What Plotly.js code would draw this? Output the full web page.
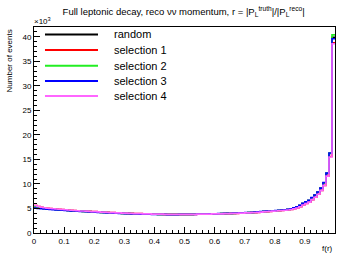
<!DOCTYPE html>
<html>
<head>
<meta charset="utf-8">
<script src="https://cdn.plot.ly/plotly-3.0.1.min.js"></script>
<style>html,body{margin:0;padding:0;background:#fff;}#plot{width:337px;height:253px;}</style>
</head>
<body>
<div id="plot"></div>
<script>
// Bin edges: 100 bins of width 0.01 from 0 to 1
var binCount = 100;
var binWidth = 0.01;

var seriesNames = ["random", "selection 1", "selection 2", "selection 3", "selection 4"];
var seriesColors = ["#000000", "#ff0000", "#22ee22", "#0000ff", "#ff66ff"];

// Counts per bin, in units of 10^3 events
var randomCounts = [
5.35,5.2,5.1,5.0,4.95,4.9,4.85,4.8,4.75,4.7,
4.65,4.6,4.55,4.5,4.5,4.45,4.4,4.4,4.35,4.3,
4.3,4.25,4.2,4.2,4.15,4.1,4.1,4.05,4.05,4.0,
4.0,3.95,3.95,3.9,3.9,3.9,3.9,3.85,3.85,3.85,
3.85,3.8,3.8,3.8,3.8,3.8,3.8,3.8,3.8,3.8,
3.8,3.8,3.8,3.85,3.85,3.85,3.85,3.85,3.9,3.9,
3.9,3.9,3.95,3.95,4.0,4.0,4.0,4.05,4.05,4.1,
4.1,4.15,4.15,4.2,4.25,4.3,4.35,4.4,4.45,4.5,
4.55,4.6,4.65,4.7,4.8,4.9,5.1,5.3,5.6,6.0,
6.3,6.6,7.2,7.7,8.3,9.1,10.2,12.1,16.2,39.9];
var selection1Counts = [
5.6,5.4,5.25,5.15,5.05,5.0,4.95,4.9,4.85,4.8,
4.75,4.7,4.65,4.6,4.55,4.5,4.5,4.45,4.4,4.35,
4.35,4.3,4.25,4.25,4.2,4.15,4.15,4.1,4.1,4.05,
4.05,4.0,4.0,3.95,3.95,3.95,3.9,3.9,3.9,3.85,
3.85,3.85,3.85,3.8,3.8,3.8,3.8,3.8,3.8,3.8,
3.8,3.8,3.8,3.8,3.85,3.85,3.85,3.85,3.85,3.9,
3.9,3.9,3.9,3.95,3.95,4.0,4.0,4.0,4.05,4.05,
4.1,4.1,4.15,4.15,4.2,4.25,4.3,4.35,4.4,4.45,
4.5,4.55,4.6,4.65,4.7,4.8,4.95,5.1,5.35,5.7,
6.0,6.3,6.8,7.3,7.9,8.7,9.7,11.6,15.6,38.8];
var selection2Counts = [
5.4,5.25,5.1,5.0,4.95,4.9,4.85,4.8,4.75,4.7,
4.65,4.6,4.55,4.5,4.5,4.45,4.4,4.4,4.35,4.3,
4.3,4.25,4.2,4.2,4.15,4.1,4.1,4.05,4.05,4.0,
4.0,3.95,3.95,3.9,3.9,3.9,3.9,3.85,3.85,3.85,
3.85,3.8,3.8,3.8,3.8,3.8,3.8,3.8,3.8,3.8,
3.8,3.8,3.8,3.85,3.85,3.85,3.85,3.85,3.9,3.9,
3.9,3.9,3.95,3.95,4.0,4.0,4.0,4.05,4.05,4.1,
4.1,4.15,4.15,4.2,4.25,4.3,4.35,4.4,4.45,4.5,
4.55,4.6,4.65,4.7,4.8,4.9,5.1,5.3,5.6,6.0,
6.3,6.6,7.2,7.7,8.3,9.1,10.2,12.2,16.3,40.4];
var selection3Counts = [
5.1,5.0,4.95,4.9,4.85,4.8,4.75,4.7,4.7,4.65,
4.6,4.55,4.5,4.5,4.45,4.4,4.4,4.35,4.3,4.3,
4.25,4.2,4.2,4.15,4.1,4.1,4.05,4.05,4.0,4.0,
3.95,3.95,3.9,3.9,3.9,3.85,3.85,3.85,3.85,3.8,
3.8,3.8,3.8,3.8,3.75,3.75,3.75,3.75,3.8,3.8,
3.8,3.8,3.8,3.8,3.85,3.85,3.85,3.85,3.9,3.9,
3.9,3.95,3.95,4.0,4.0,4.0,4.05,4.05,4.1,4.1,
4.15,4.15,4.2,4.25,4.3,4.35,4.4,4.45,4.5,4.55,
4.6,4.65,4.7,4.75,4.85,4.95,5.15,5.35,5.65,6.05,
6.35,6.65,7.25,7.75,8.35,9.15,10.3,12.2,16.3,39.6];
var selection4Counts = [
5.6,5.4,5.25,5.15,5.05,5.0,4.95,4.9,4.85,4.8,
4.75,4.7,4.65,4.6,4.55,4.5,4.5,4.45,4.4,4.35,
4.35,4.3,4.25,4.25,4.2,4.15,4.15,4.1,4.1,4.05,
4.05,4.0,4.0,3.95,3.95,3.95,3.9,3.9,3.9,3.85,
3.85,3.85,3.85,3.8,3.8,3.8,3.8,3.8,3.8,3.8,
3.8,3.8,3.8,3.8,3.85,3.85,3.85,3.85,3.85,3.9,
3.9,3.9,3.9,3.95,3.95,4.0,4.0,4.0,4.05,4.05,
4.1,4.1,4.15,4.15,4.2,4.25,4.3,4.35,4.4,4.45,
4.5,4.55,4.6,4.65,4.7,4.8,4.95,5.1,5.35,5.7,
6.0,6.3,6.8,7.3,7.9,8.7,9.7,11.6,15.5,38.6];

var allCounts = [randomCounts, selection1Counts, selection2Counts, selection3Counts, selection4Counts];

// Bin lower edges plus the final upper edge
var edges = [];
for (var i = 0; i <= binCount; i++) edges.push(+(i * binWidth).toFixed(2));

var traces = allCounts.map(function (counts, k) {
  var ys = counts.slice();
  ys.push(counts[counts.length - 1]);
  return {
    type: "scatter",
    mode: "lines",
    x: edges,
    y: ys,
    name: seriesNames[k],
    line: {color: seriesColors[k], width: 1.6, shape: "hv"},
    hoverinfo: "skip",
    showlegend: false
  };
});

var fontFam = "Liberation Sans, Arial, Helvetica, sans-serif";

// Legend drawn as paper-positioned samples and labels (ROOT TLegend style)
var legendRowY = [0.9636, 0.888, 0.812, 0.738, 0.665];
var shapes = [];
var annotations = [];
seriesNames.forEach(function (name, k) {
  shapes.push({type: "line", xref: "paper", yref: "paper",
    x0: 0.0365, x1: 0.2126, y0: legendRowY[k], y1: legendRowY[k],
    line: {color: seriesColors[k], width: 2}});
  annotations.push({text: name, xref: "paper", yref: "paper",
    x: 0.259, y: legendRowY[k], xanchor: "left", yanchor: "middle", showarrow: false,
    font: {family: fontFam, size: 11, color: "#000"}});
});

annotations.push(
  {text: "Number of events", textangle: -90, xref: "paper", yref: "paper",
   x: -0.08, y: 1.0, xanchor: "center", yanchor: "top", showarrow: false,
   font: {family: fontFam, size: 8, color: "#000"}},
  {text: "\u00d710<sup>3</sup>", xref: "paper", yref: "paper",
   x: -0.005, y: 0.995, xanchor: "left", yanchor: "bottom", showarrow: false,
   font: {family: fontFam, size: 8, color: "#000"}},
  {text: "f(r)", xref: "paper", yref: "paper",
   x: 1.0, y: -0.075, xanchor: "right", yanchor: "middle", showarrow: false,
   font: {family: fontFam, size: 8, color: "#000"}}
);

var layout = {
  width: 337,
  height: 253,
  margin: {l: 34, r: 2, t: 27, b: 20, pad: 0},
  paper_bgcolor: "#ffffff",
  plot_bgcolor: "#ffffff",
  font: {family: fontFam, size: 8, color: "#000"},
  title: {
    text: "Full leptonic decay, reco \u03bd\u03bd momentum, r = |P<sub>L</sub><sup>truth</sup>|/|P<sub>L</sub><sup>reco</sup>|",
    font: {family: fontFam, size: 9.5, color: "#000"},
    x: 0.545, xanchor: "center", y: 0.955, yanchor: "middle"
  },
  xaxis: {
    range: [0, 1],
    dtick: 0.1, tick0: 0,
    ticks: "inside", ticklen: 6, tickwidth: 1, tickcolor: "#000",
    minor: {dtick: 0.02, ticks: "inside", ticklen: 3, tickcolor: "#000", showgrid: false},
    showline: true, linecolor: "#000", linewidth: 1, mirror: true,
    showgrid: false, zeroline: false,
    tickfont: {family: fontFam, size: 8, color: "#000"},
    ticklabelstandoff: 0
  },
  yaxis: {
    range: [0, 42],
    dtick: 5, tick0: 0,
    ticks: "inside", ticklen: 6, tickwidth: 1, tickcolor: "#000",
    minor: {dtick: 1, ticks: "inside", ticklen: 3, tickcolor: "#000", showgrid: false},
    showline: true, linecolor: "#000", linewidth: 1, mirror: true,
    showgrid: false, zeroline: false,
    tickfont: {family: fontFam, size: 8, color: "#000"}
  },
  showlegend: false,
  shapes: shapes,
  annotations: annotations
};

Plotly.newPlot("plot", traces, layout, {staticPlot: true, displayModeBar: false});
</script>
</body>
</html>
